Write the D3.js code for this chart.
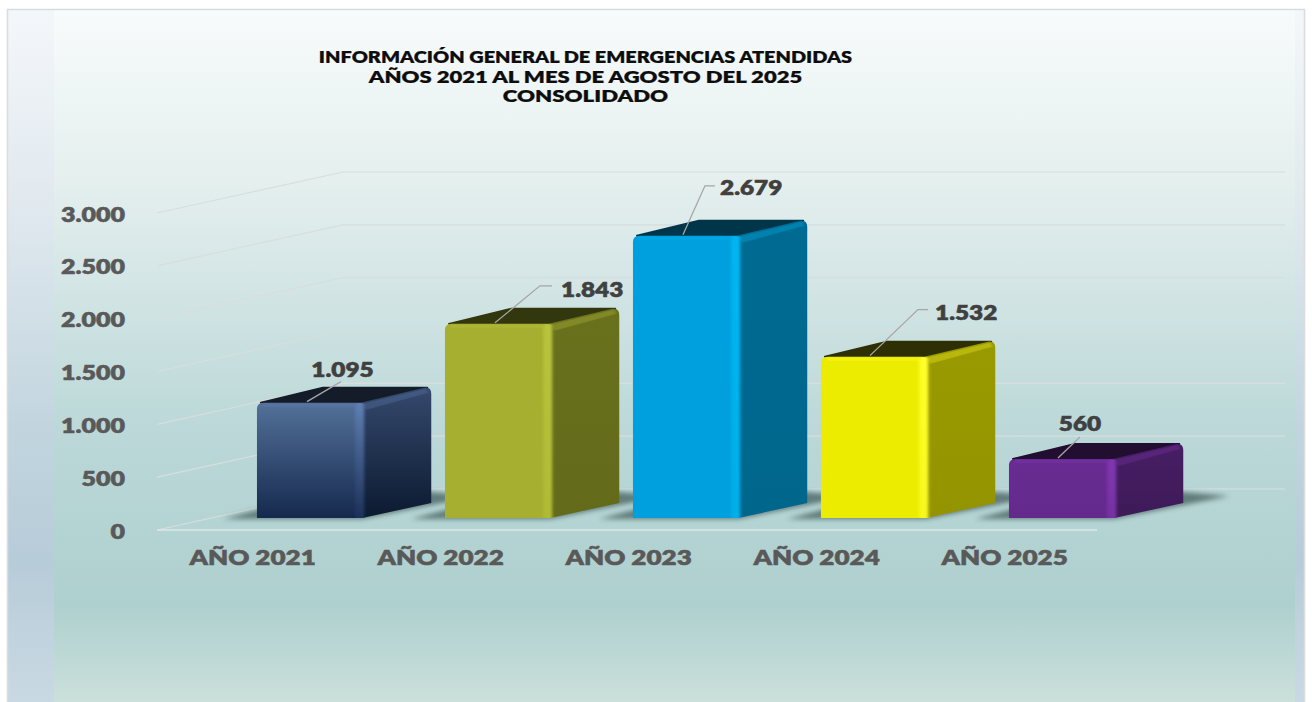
<!DOCTYPE html>
<html><head><meta charset="utf-8">
<script src="https://cdn.jsdelivr.net/npm/d3@7/dist/d3.min.js"></script>
<style>html,body{margin:0;padding:0;background:#fff;overflow:hidden}svg{display:block}text{font-family:Lato,"Noto Sans",sans-serif;font-weight:800}</style>
</head><body><svg id="c" width="1312" height="702"></svg>
<script>
const categories=["AÑO 2021","AÑO 2022","AÑO 2023","AÑO 2024","AÑO 2025"];
const values=[1095,1843,2679,1532,560];
const valueLabels=["1.095","1.843","2.679","1.532","560"];
const yTicks=[0,500,1000,1500,2000,2500,3000];
const yTickLabels=["0","500","1.000","1.500","2.000","2.500","3.000"];
const titleLines=["INFORMACIÓN GENERAL DE EMERGENCIAS ATENDIDAS","AÑOS 2021 AL MES DE AGOSTO DEL 2025","CONSOLIDADO"];
const frontTop=["#537199","#a6af30","#009fdd","#ecec00","#692c92"];
const frontBottom=["#16294e","#a6af30","#009fdd","#ecec00","#632a8c"];
const sideTop=["#36496d","#69711d","#006b92","#999900","#471e64"];
const sideBottom=["#0b1a30","#636b1b","#00668c","#949400","#3e1a58"];
const topFace=["#141c2a","#33370e","#00354a","#2f2f06","#220e30"];
const edgeTop=["#5f80b4","#b9c43a","#00b6f2","#ffff2a","#8036b0"];
const edgeBottom=["#1c3058","#b0ba36","#00aee8","#f8f81e","#7432a2"];

const svg=d3.select("#c"), defs=svg.append("defs");
const linear=(id,x2,y2,stops)=>{const g=defs.append("linearGradient").attr("id",id).attr("x1",0).attr("y1",0).attr("x2",x2).attr("y2",y2);
  stops.forEach(s=>g.append("stop").attr("offset",s[0]).attr("stop-color",s[1]));};
linear("bgMain",0,1,[[0,"#f8fbfc"],[.25,"#e4efee"],[.6,"#bcd8d8"],[.86,"#aed0cf"],[1,"#cbe0db"]]);
linear("bgSide",0,1,[[0,"#f4f7fa"],[.3,"#dfe8ee"],[.6,"#c2d5df"],[.8,"#b7ccd9"],[1,"#c9d9e3"]]);
const blur=defs.append("filter").attr("id","shadow").attr("x","-20%").attr("y","-50%").attr("width","140%").attr("height","200%");
blur.append("feGaussianBlur").attr("stdDeviation",2.4);
const soft=defs.append("filter").attr("id","soft").attr("x","-50%").attr("width","200%");
soft.append("feGaussianBlur").attr("stdDeviation","1.6 0.4");
categories.forEach((c,i)=>{
  linear("f"+i,0,1,[[0,frontTop[i]],[1,frontBottom[i]]]);
  linear("s"+i,0,1,[[0,sideTop[i]],[1,sideBottom[i]]]);
  linear("e"+i,0,1,[[0,edgeTop[i]],[1,edgeBottom[i]]]);
});

svg.append("rect").attr("x",7).attr("y",9).attr("width",1298).attr("height",693).attr("fill","url(#bgSide)");
svg.append("rect").attr("x",54).attr("y",10).attr("width",1241).attr("height",692).attr("fill","url(#bgMain)");
svg.append("path").attr("d","M7.5 702V9.5H1304.5V702").attr("fill","none").attr("stroke","#d9dcdc").attr("stroke-width",1.5);

const y=d3.scaleLinear().domain([0,3000]).range([530,213]);
const yBar=d3.scaleLinear().domain([0,3000]).range([518,202]);
const x=d3.scaleBand().domain(categories).range([215.6,1155.6]).paddingInner(.44).paddingOuter(.22);
const wallDx=186, wallDy=41, wallRight=1285, axisX=157, floorRight=1097;
const depthX=69, depthY=15;

const widen=(sel,factor)=>sel.each(function(d,i){const n=this.getComputedTextLength();
  const k=Array.isArray(factor)?factor[i]:factor;
  d3.select(this).attr("textLength",n*k).attr("lengthAdjust","spacingAndGlyphs");});

const grid=svg.append("g").attr("fill","none").attr("stroke","#d9dddd").attr("stroke-width",1.2);
grid.selectAll("path").data(yTicks).join("path")
  .attr("d",v=>d3.line()([[axisX,y(v)],[axisX+wallDx,y(v)-wallDy],[wallRight,y(v)-wallDy]]));
grid.append("path").attr("d",d3.line()([[axisX,y(0)],[floorRight,y(0)]])).attr("stroke","#dce6e6").attr("stroke-width",1.6);

svg.append("g").selectAll("text").data(yTicks).join("text")
  .attr("x",125).attr("y",v=>y(v)+8.5).attr("text-anchor","end").attr("fill","#595959").attr("font-size",21)
  .attr("stroke","#595959").attr("stroke-width",.5).text((v,i)=>yTickLabels[i]).call(widen,1.19);
svg.append("g").selectAll("text").data(categories).join("text")
  .attr("x",c=>x(c)+x.bandwidth()/2-57).attr("y",565).attr("text-anchor","middle").attr("fill","#595959")
  .attr("font-size",21).attr("stroke","#595959").attr("stroke-width",.5).text(c=>c).call(widen,1.24);

const title=svg.append("g").attr("text-anchor","middle").attr("fill","#0d0d0d").attr("font-size",16.2).attr("stroke","#0d0d0d").attr("stroke-width",.2);
title.selectAll("text").data(titleLines).join("text").attr("x",585.5).attr("y",(d,i)=>[63,82.5,102][i]).text(d=>d).call(widen,[1.23,1.36,1.37]);

const marks=svg.append("g").selectAll("g").data(values).join("g");
marks.each(function(v,i){
  const g=d3.select(this), b=x(categories[i]), w=x.bandwidth(), t=yBar(v), f=yBar(0), r=b+w;
  const line=d3.line();
  g.append("path").attr("filter","url(#shadow)").attr("fill","#3f5a58").attr("opacity",.72)
   .attr("d",line([[b-34,f+1],[r,f+1],[r+depthX+46,f-22],[r+depthX,f-26],[b+depthX,f-26]])+"Z");
  g.append("path").attr("fill",topFace[i]).attr("stroke",topFace[i]).attr("stroke-width",2).attr("stroke-linejoin","round")
   .attr("d",line([[b+4,t],[b+depthX-3,t-depthY],[r+depthX-4,t-depthY],[r,t]])+"Z");
  g.append("path").attr("fill",`url(#s${i})`)
   .attr("d",`M${r-2} ${t}L${r+depthX-7} ${t-depthY}Q${r+depthX} ${t-depthY-1} ${r+depthX} ${t-depthY+6}V${f-depthY}L${r} ${f}Z`);
  g.append("path").attr("fill",edgeTop[i]).attr("opacity",.3).attr("filter","url(#soft)")
   .attr("d",line([[r,t+1],[r+depthX-5,t-depthY+1],[r+depthX-3,t-depthY+5],[r+4,t+7]])+"Z");
  g.append("path").attr("fill",`url(#f${i})`)
   .attr("d",`M${b} ${f}V${t+6}Q${b} ${t} ${b+7} ${t}H${r-3}V${f}Z`);
  g.append("path").attr("fill",`url(#e${i})`).attr("filter","url(#soft)")
   .attr("d",`M${r-7} ${f}V${t+4}Q${r-6} ${t} ${r-2} ${t}Q${r+2} ${t} ${r+2} ${t+4}V${f}Z`);
  g.append("path").attr("fill",edgeTop[i]).attr("opacity",.35).attr("filter","url(#soft)")
   .attr("d",line([[b+6,t+1],[r-6,t+1],[r-6,t+4],[b+6,t+4]])+"Z");
});

const leaders=[[50,[34,-20],null,342.5,376.5,"middle"],
               [50,[45,-37],12,561,297,"start"],
               [50,[22,-49],10,720,195,"start"],
               [49,[48,-46],10,935,320,"start"],
               [49,[22,-21],null,1080,431,"middle"]];
const labels=svg.append("g");
values.forEach((v,i)=>{
  const [dx,e,run,tx,ty,anchor]=leaders[i], ax=x(categories[i])+dx, ay=yBar(v)-1;
  const pts=[[ax,ay],[ax+e[0],ay+e[1]]]; if(run) pts.push([ax+e[0]+run,ay+e[1]]);
  labels.append("path").attr("d",d3.line()(pts)).attr("fill","none").attr("stroke","#a6a6a6").attr("stroke-width",1.3);
  labels.append("text").attr("x",tx).attr("y",ty).attr("text-anchor",anchor).attr("fill","#404040")
    .attr("font-size",21).attr("stroke","#404040").attr("stroke-width",.5).text(valueLabels[i]).call(widen,1.16);
});
</script></body></html>
